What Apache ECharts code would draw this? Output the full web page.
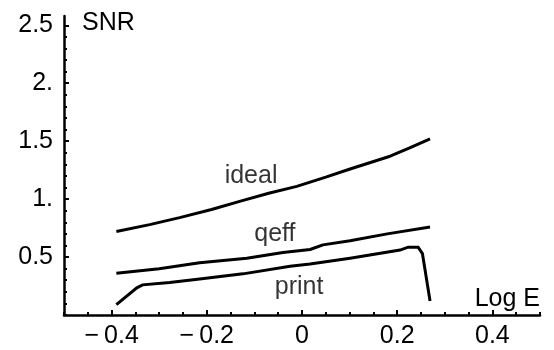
<!DOCTYPE html>
<html>
<head>
<meta charset="utf-8">
<script src="https://cdn.jsdelivr.net/npm/echarts@6/dist/echarts.min.js"></script>
<style>
  html, body { margin: 0; padding: 0; background: #fff; }
  #chart { width: 554px; height: 350px; }
</style>
</head>
<body>
<div id="chart"></div>
<script>
// Signal-to-noise ratio against log exposure for three detector models.
const idealCurve = [
  [-0.39, 0.72], [-0.32, 0.78], [-0.257, 0.84], [-0.19, 0.91], [-0.131, 0.98],
  [-0.07, 1.05], [-0.011, 1.11], [0.05, 1.19], [0.101, 1.26], [0.185, 1.37],
  [0.225, 1.44], [0.269, 1.52]
];
const qeffCurve = [
  [-0.39, 0.36], [-0.3, 0.40], [-0.215, 0.45], [-0.116, 0.49], [-0.04, 0.54],
  [0.017, 0.565], [0.044, 0.605], [0.101, 0.64], [0.179, 0.70], [0.269, 0.76]
];
const printCurve = [
  [-0.39, 0.09], [-0.347, 0.234], [-0.335, 0.26], [-0.278, 0.28], [-0.215, 0.31],
  [-0.124, 0.355], [-0.025, 0.42], [0.017, 0.44], [0.101, 0.49], [0.206, 0.56],
  [0.223, 0.585], [0.244, 0.585], [0.253, 0.53], [0.269, 0.12]
];
const curveLabels = [
  { name: 'ideal', value: [-0.107, 1.2] },
  { name: 'qeff',  value: [-0.057, 0.70] },
  { name: 'print', value: [-0.006, 0.24] }
];
const xTickLabels = [-0.4, -0.2, 0, 0.2, 0.4];
const yTickLabels = [0.5, 1, 1.5, 2, 2.5];

const X_MIN = -0.5, X_MAX = 0.5, Y_MIN = 0, Y_MAX = 2.58;

function steps(from, to, step) {
  const out = [];
  for (let v = from; v <= to + 1e-9; v += step) out.push(Math.round(v * 1000) / 1000);
  return out;
}
const xMinorTicks = steps(-0.5, 0.5, 0.05);
const yMinorTicks = steps(0, 2.5, 0.1);

const FONT = 'Liberation Sans, Arial, Helvetica, sans-serif';
const FS = 25;

function fmtX(v) {
  if (Math.abs(v) < 1e-9) return '0';
  const s = Math.abs(v).toFixed(1);
  return v < 0 ? '\u2212\u2009' + s : s;
}
function fmtY(v) {
  return Number.isInteger(v) ? v + '.' : String(v);
}

const axisLine = { show: true, onZero: false, lineStyle: { color: '#000', width: 2.5 } };
const textStyle = { color: '#000', fontSize: FS, fontFamily: FONT };

const chart = echarts.init(document.getElementById('chart'), null, { renderer: 'canvas' });
chart.setOption({
  animation: false,
  backgroundColor: '#fff',
  grid: { left: 64, right: 14, top: 16, bottom: 35 },
  xAxis: [
    {
      type: 'value', min: X_MIN, max: X_MAX,
      axisLine: axisLine,
      axisTick: { show: true, inside: true, length: 3, customValues: xMinorTicks,
                  lineStyle: { color: '#000', width: 2 } },
      axisLabel: Object.assign({ show: true, margin: 9, customValues: xTickLabels, formatter: fmtX }, textStyle),
      splitLine: { show: false },
      name: 'Log E', nameLocation: 'end', nameGap: 0,
      nameTextStyle: Object.assign({ align: 'right', verticalAlign: 'bottom', padding: [0, 0, 3, 0] }, textStyle)
    },
    {
      type: 'value', min: X_MIN, max: X_MAX, position: 'bottom',
      axisLine: { show: false, onZero: false },
      axisTick: { show: true, inside: true, length: 5, customValues: xTickLabels,
                  lineStyle: { color: '#000', width: 2 } },
      axisLabel: { show: false },
      splitLine: { show: false }
    }
  ],
  yAxis: [
    {
      type: 'value', min: Y_MIN, max: Y_MAX,
      axisLine: axisLine,
      axisTick: { show: true, inside: true, length: 3, customValues: yMinorTicks,
                  lineStyle: { color: '#000', width: 2 } },
      axisLabel: Object.assign({ show: true, margin: 11, customValues: yTickLabels, formatter: fmtY }, textStyle),
      splitLine: { show: false },
      name: 'SNR', nameLocation: 'end', nameGap: -7,
      nameTextStyle: Object.assign({ align: 'left', verticalAlign: 'middle', padding: [0, 0, 0, 18] }, textStyle)
    },
    {
      type: 'value', min: Y_MIN, max: Y_MAX, position: 'left',
      axisLine: { show: false, onZero: false },
      axisTick: { show: true, inside: true, length: 5, customValues: yTickLabels,
                  lineStyle: { color: '#000', width: 2 } },
      axisLabel: { show: false },
      splitLine: { show: false }
    }
  ],
  series: [
    { name: 'ideal', type: 'line', data: idealCurve, showSymbol: false, symbol: 'none',
      lineStyle: { color: '#000', width: 3 }, z: 3 },
    { name: 'qeff', type: 'line', data: qeffCurve, showSymbol: false, symbol: 'none',
      lineStyle: { color: '#000', width: 3 }, z: 3 },
    { name: 'print', type: 'line', data: printCurve, showSymbol: false, symbol: 'none',
      lineStyle: { color: '#000', width: 3, join: 'miter' }, z: 3 },
    { type: 'scatter', data: curveLabels, symbolSize: 0, silent: true,
      label: Object.assign({ show: true, position: 'inside', formatter: '{b}' }, textStyle) }
  ]
});
</script>
</body>
</html>
